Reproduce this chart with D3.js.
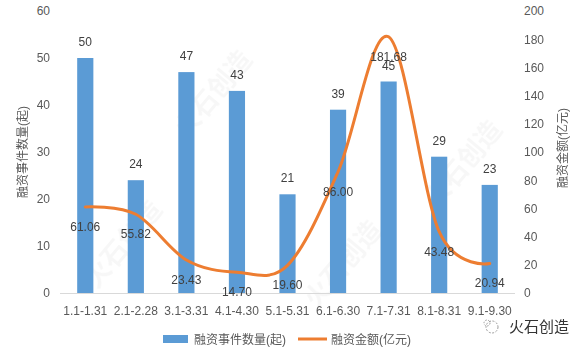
<!DOCTYPE html>
<html><head><meta charset="utf-8">
<script src="https://cdn.jsdelivr.net/npm/d3@7"></script>
<style>body{margin:0;background:#fff;}svg{display:block;font-family:"Liberation Sans","Noto Sans CJK SC",sans-serif;}</style>
</head><body><svg id="c" width="583" height="352"></svg>
<script>
const categories = ["1.1-1.31","2.1-2.28","3.1-3.31","4.1-4.30","5.1-5.31","6.1-6.30","7.1-7.31","8.1-8.31","9.1-9.30"];
const eventCounts = [50,24,47,43,21,39,45,29,23];
const amounts = [61.06,55.82,23.43,14.70,19.60,86.00,181.68,43.48,20.94];
const leftTicks = [0,10,20,30,40,50,60];
const rightTicks = [0,20,40,60,80,100,120,140,160,180,200];
const seriesNames = ["融资事件数量(起)","融资金额(亿元)"];
const axisTitles = ["融资事件数量(起)","融资金额(亿元)"];

const svg = d3.select("#c");
const x = d3.scaleBand().domain(categories).range([60,515]).paddingInner(0.68).paddingOuter(0.34);
const yL = d3.scaleLinear().domain([0,60]).range([293,11]);
const yR = d3.scaleLinear().domain([0,200]).range([293,11]);
const textCol="#595959";

// watermarks (faint)
const wm = svg.append("g").attr("fill","#000").attr("opacity",0.035).attr("font-size",26).attr("font-weight","bold");
[[130,250],[220,100],[350,270],[470,170]].forEach(([a,b])=>{
  wm.append("text").attr("transform",`translate(${a},${b}) rotate(-50)`).attr("text-anchor","middle").text("火石创造");
});

// bars
svg.append("g").selectAll("rect").data(categories).join("rect")
  .attr("x",d=>x(d)).attr("width",x.bandwidth())
  .attr("y",(d,i)=>yL(eventCounts[i])).attr("height",(d,i)=>yL(0)-yL(eventCounts[i]))
  .attr("fill","#5B9BD5");

// baseline
svg.append("line").attr("x1",60).attr("x2",515).attr("y1",293.5).attr("y2",293.5).attr("stroke","#D9D9D9");

// left axis
const axL = d3.axisLeft(yL).tickValues(leftTicks).tickSize(0).tickPadding(0);
const gL = svg.append("g").attr("transform","translate(50,0)").call(axL);
gL.select(".domain").remove();
gL.selectAll("text").attr("font-size",12).attr("fill",textCol).attr("font-family","Liberation Sans, sans-serif");
// right axis
const axR = d3.axisRight(yR).tickValues(rightTicks).tickSize(0).tickPadding(0);
const gR = svg.append("g").attr("transform","translate(524,0)").call(axR);
gR.select(".domain").remove();
gR.selectAll("text").attr("font-size",12).attr("fill",textCol).attr("font-family","Liberation Sans, sans-serif");
// x axis
const axX = d3.axisBottom(x).tickSize(0).tickPadding(0);
const gX = svg.append("g").attr("transform","translate(0,306)").call(axX);
gX.select(".domain").remove();
gX.selectAll("text").attr("font-size",12).attr("fill",textCol).attr("dy","0.71em").attr("font-family","Liberation Sans, sans-serif");

// axis titles
svg.append("text").attr("transform","translate(27,152) rotate(-90)").attr("text-anchor","middle")
  .attr("font-size",12).attr("fill",textCol).text(axisTitles[0]);
svg.append("text").attr("transform","translate(567,148) rotate(-90)").attr("text-anchor","middle")
  .attr("font-size",12).attr("fill",textCol).text(axisTitles[1]);

// bar labels
svg.append("g").selectAll("text").data(categories).join("text")
  .attr("x",d=>x(d)+x.bandwidth()/2).attr("y",(d,i)=>yL(eventCounts[i])-12)
  .attr("text-anchor","middle").attr("font-size",12).attr("fill","#404040").text((d,i)=>eventCounts[i]);

// line
const cx = d=>x(d)+x.bandwidth()/2;
const line = d3.line().x((d,i)=>cx(categories[i])).y(d=>yR(d)).curve(d3.curveCardinal.tension(0));
svg.append("path").datum(amounts).attr("d",line).attr("fill","none").attr("stroke","#ED7D31")
  .attr("stroke-width",3).attr("stroke-linecap","round");

// line labels
svg.append("g").selectAll("text").data(amounts).join("text")
  .attr("x",(d,i)=>cx(categories[i])).attr("y",d=>yR(d)+24)
  .attr("text-anchor","middle").attr("font-size",12).attr("fill","#404040").text(d=>d.toFixed(2));

// legend
const lg = svg.append("g");
lg.append("rect").attr("x",163).attr("y",335).attr("width",25).attr("height",8).attr("fill","#5B9BD5");
lg.append("text").attr("x",194).attr("y",343.5).attr("font-size",12).attr("fill",textCol).text(seriesNames[0]);
lg.append("line").attr("x1",298).attr("x2",327).attr("y1",339).attr("y2",339).attr("stroke","#ED7D31").attr("stroke-width",3);
lg.append("text").attr("x",331).attr("y",343.5).attr("font-size",12).attr("fill",textCol).text(seriesNames[1]);

// logo
const logo = svg.append("g");
logo.append("circle").attr("cx",492).attr("cy",327).attr("r",6).attr("fill","none").attr("stroke","#999").attr("stroke-dasharray","2,1.5");
logo.append("circle").attr("cx",487).attr("cy",323).attr("r",3).attr("fill","none").attr("stroke","#999").attr("stroke-dasharray","1.5,1.5");
logo.append("text").attr("x",509).attr("y",332).attr("font-size",15).attr("fill","#333").text("火石创造");
</script></body></html>
